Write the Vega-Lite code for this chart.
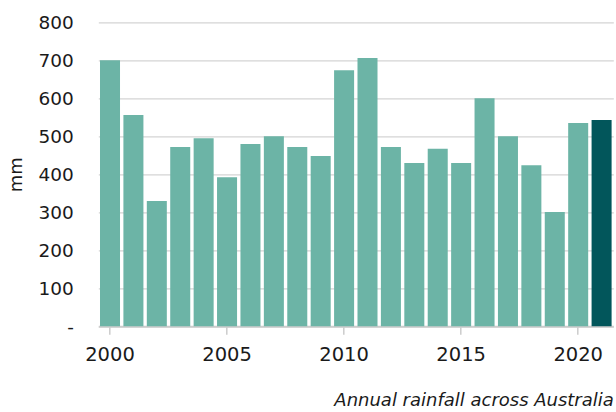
{
  "$schema": "https://vega.github.io/schema/vega-lite/v6.json",
  "autosize": {"type": "none"},
  "padding": {"left": 98.3, "top": 22.3, "right": 3, "bottom": 85},
  "width": 515,
  "height": 304,
  "background": "white",
  "config": {
    "view": {"stroke": null},
    "font": "DejaVu Sans"
  },
  "data": {
    "values": [
      {"year": 2000, "rainfall": 700},
      {"year": 2001, "rainfall": 556},
      {"year": 2002, "rainfall": 330},
      {"year": 2003, "rainfall": 472},
      {"year": 2004, "rainfall": 495},
      {"year": 2005, "rainfall": 392},
      {"year": 2006, "rainfall": 480},
      {"year": 2007, "rainfall": 500},
      {"year": 2008, "rainfall": 472},
      {"year": 2009, "rainfall": 448},
      {"year": 2010, "rainfall": 674},
      {"year": 2011, "rainfall": 706},
      {"year": 2012, "rainfall": 472},
      {"year": 2013, "rainfall": 430},
      {"year": 2014, "rainfall": 467},
      {"year": 2015, "rainfall": 430},
      {"year": 2016, "rainfall": 600},
      {"year": 2017, "rainfall": 500},
      {"year": 2018, "rainfall": 424},
      {"year": 2019, "rainfall": 301},
      {"year": 2020, "rainfall": 535},
      {"year": 2021, "rainfall": 543}
    ]
  },
  "mark": {"type": "bar"},
  "encoding": {
    "x": {
      "field": "year",
      "type": "ordinal",
      "scale": {"paddingInner": 0.145, "paddingOuter": 0.0725},
      "axis": {
        "values": [2000, 2005, 2010, 2015, 2020],
        "labelAngle": 0,
        "labelFontSize": 19.5,
        "labelColor": "#1a1a1a",
        "labelPadding": 11,
        "tickSize": 8,
        "tickColor": "#cccccc",
        "tickWidth": 1.5,
        "domainColor": "#cccccc",
        "domainWidth": 2,
        "grid": false,
        "title": "Annual rainfall across Australia",
        "titleFontSize": 18,
        "titleFontStyle": "italic",
        "titleFontWeight": "normal",
        "titleColor": "#1a1a1a",
        "titleAnchor": "end",
        "titleAlign": "right",
        "titleX": 515,
        "titleY": 79,
        "titleBaseline": "alphabetic"
      }
    },
    "y": {
      "field": "rainfall",
      "type": "quantitative",
      "scale": {"domain": [0, 800], "nice": false},
      "axis": {
        "values": [0, 100, 200, 300, 400, 500, 600, 700, 800],
        "labelExpr": "datum.value == 0 ? '-' : datum.label",
        "labelFontSize": 18.5,
        "labelColor": "#1a1a1a",
        "labelPadding": 25,
        "ticks": false,
        "tickSize": 0,
        "domain": false,
        "gridColor": "#d4d4d4",
        "gridWidth": 1.3,
        "title": "mm",
        "titleFontSize": 18,
        "titleFontWeight": "normal",
        "titleColor": "#1a1a1a",
        "titleAngle": 270,
        "titleX": -77,
        "titleY": 152,
        "titleBaseline": "alphabetic",
        "titleAlign": "center"
      }
    },
    "color": {
      "condition": {"test": "datum.year == 2021", "value": "#02565b"},
      "value": "#6cb4a6"
    }
  }
}
